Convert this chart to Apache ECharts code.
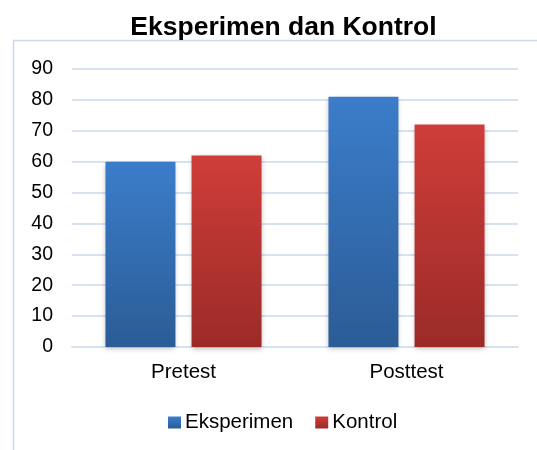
<!DOCTYPE html>
<html><head><meta charset="utf-8">
<script src="https://cdn.jsdelivr.net/npm/echarts@6/dist/echarts.min.js"></script>
<style>html,body{margin:0;padding:0;background:#fff}#c{width:537px;height:450px}</style>
</head><body><div id="c"></div>
<script>
const categories = ['Pretest', 'Posttest'];
const eksperimen = [60, 81];
const kontrol = [62, 72];
const yTicks = [0, 10, 20, 30, 40, 50, 60, 70, 80, 90];

const chart = echarts.init(document.getElementById('c'), null, {renderer: 'canvas'});
function grad(top, bottom) {
  return new echarts.graphic.LinearGradient(0, 0, 0, 1, [{offset: 0, color: top}, {offset: 1, color: bottom}]);
}
const F = 'Liberation Sans, Arial, sans-serif';
chart.setOption({
  animation: false,
  title: {text: 'Eksperimen dan Kontrol', left: 278.5, top: 9, textAlign: 'center',
    textStyle: {fontFamily: F, fontSize: 26.5, fontWeight: 'bold', color: '#000'}},
  graphic: [
    {type: 'line', shape: {x1: 13, y1: 40.5, x2: 537, y2: 40.5}, style: {stroke: '#c9d9ee', lineWidth: 1.5}},
    {type: 'line', shape: {x1: 13.5, y1: 40, x2: 13.5, y2: 450}, style: {stroke: '#c9d9ee', lineWidth: 1.5}}
  ],
  legend: {top: 407, left: 163, itemWidth: 13, itemHeight: 12, itemGap: 22,
    icon: 'rect',
    textStyle: {fontFamily: F, fontSize: 20.5, color: '#000', padding: [0, 0, 0, -1]},
    data: ['Eksperimen', 'Kontrol']},
  grid: {left: 72, right: 19, top: 69, bottom: 103},
  xAxis: {type: 'category', data: categories,
    axisLine: {lineStyle: {color: '#d6e2f2', width: 2}}, axisTick: {show: false},
    axisLabel: {fontFamily: F, fontSize: 20.5, color: '#000', margin: 15}},
  yAxis: {type: 'value', min: 0, max: 90, interval: 10,
    axisLine: {show: false}, axisTick: {show: false},
    splitLine: {lineStyle: {color: '#d6e2f2', width: 2}},
    axisLabel: {fontFamily: F, fontSize: 19.5, color: '#000', margin: 19,
      formatter: v => yTicks.includes(v) ? String(v) : ''}},
  series: [
    {name: 'Eksperimen', type: 'bar', data: eksperimen, barWidth: 70, barGap: '23%',
      itemStyle: {color: grad('#3b7dcb', '#2b5c96'), shadowColor: 'rgba(0,0,0,0.25)', shadowBlur: 5, shadowOffsetY: 2}},
    {name: 'Kontrol', type: 'bar', data: kontrol, barWidth: 70,
      itemStyle: {color: grad('#cf3d39', '#9b2b28'), shadowColor: 'rgba(0,0,0,0.25)', shadowBlur: 5, shadowOffsetY: 2}}
  ]
});
</script></body></html>
